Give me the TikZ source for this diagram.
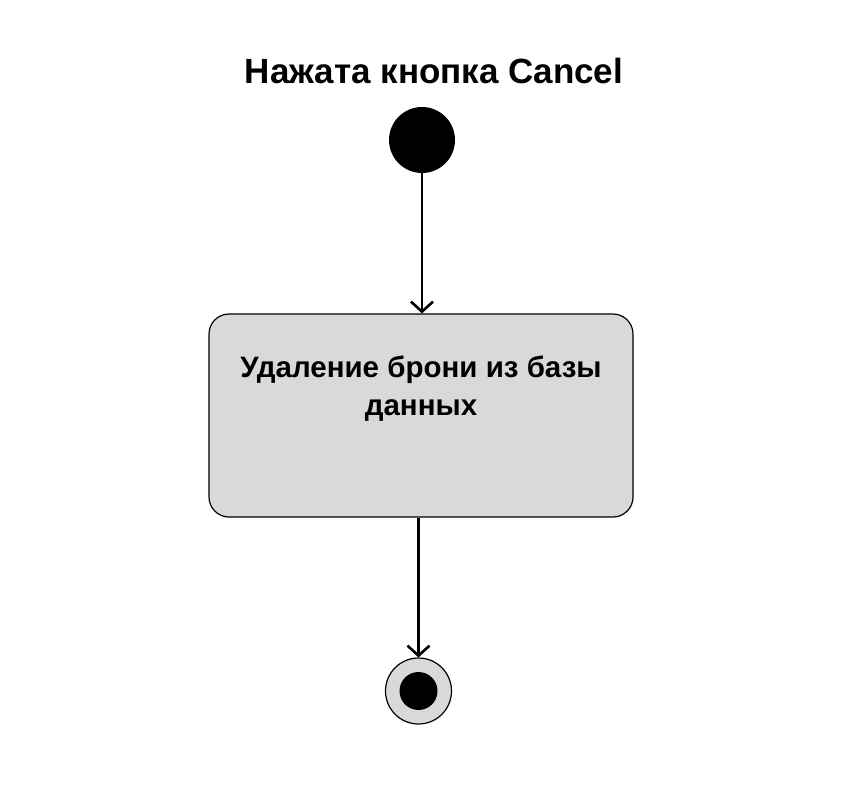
\documentclass[tikz,border=0pt]{standalone}
\usepackage{fontspec}
\setmainfont{Liberation Sans}
\usetikzlibrary{arrows.meta}
\begin{document}
\begin{tikzpicture}[x=1pt,y=-1pt,
  line/.style={draw=black,line width=2.6pt,-{Straight Barb[length=10pt,width=22pt,line width=2.6pt]}},
  actbox/.style={draw=black,line width=1.2pt,fill={rgb,255:red,217;green,217;blue,217},rounded corners=20pt,minimum width=424pt,minimum height=203pt,inner sep=0pt},
  lbl/.style={font=\bfseries\fontsize{29.5}{38}\selectfont,align=center}]
\useasboundingbox (0,0) rectangle (846,806);
\node[font=\bfseries\fontsize{35}{40}\selectfont] (title) at (434,71) {Нажата кнопка Cancel};
\node[circle,fill=black,minimum size=66pt,inner sep=0pt] (start) at (422,140) {};
\node[actbox] (act) at (421,415.5) {};
\node[lbl] (txt) at (421,389) {Удаление брони из базы\\данных};
\node[circle,draw=black,line width=1.2pt,fill={rgb,255:red,217;green,217;blue,217},minimum size=66pt,inner sep=0pt] (end) at (418.5,691) {};
\node[circle,fill=black,minimum size=38pt,inner sep=0pt] (endin) at (418.5,691) {};
\draw[line] (start.south) -- (start.south |- act.north);
\draw[line] (end.north |- act.south) -- (end.north);
\end{tikzpicture}
\end{document}
